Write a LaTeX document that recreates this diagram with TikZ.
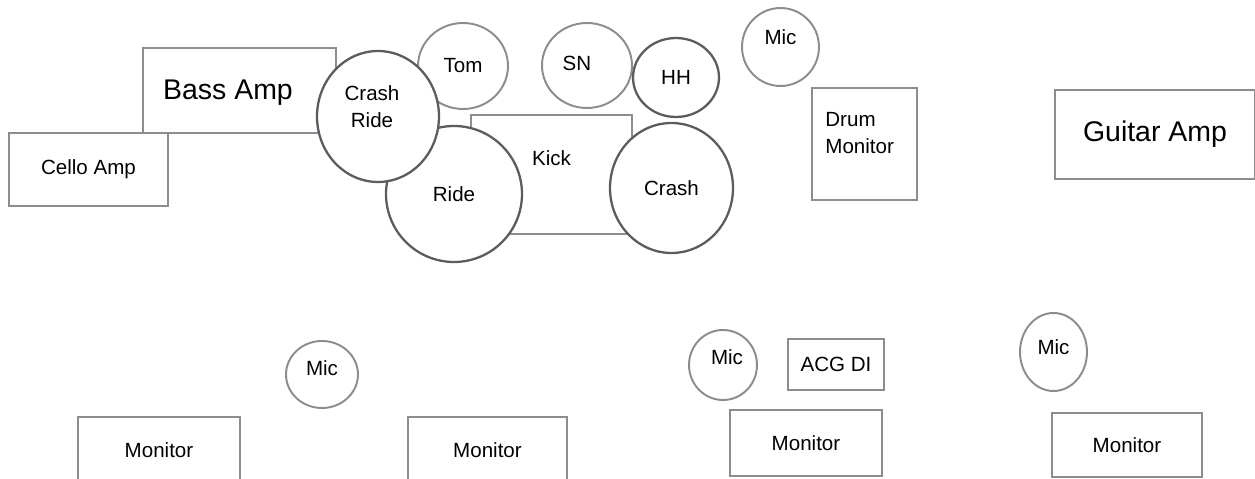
\documentclass[tikz,border=0pt]{standalone}
\usepackage{fontspec}
\setmainfont{Liberation Sans}
\usetikzlibrary{
    shapes.geometric,
    positioning
}
\definecolor{boxline}{HTML}{8B8D90}
\definecolor{darkline}{HTML}{5A5C60}
\definecolor{lightline}{HTML}{8C8C8C}
\tikzset{gear/.style={rectangle, draw=boxline, line width=1.1pt, fill=white, inner sep=0pt}}
\tikzset{drum/.style={ellipse, draw=darkline, line width=1.3pt, fill=white, inner sep=0pt}}
\tikzset{mic/.style={ellipse, draw=lightline, line width=1.1pt, fill=white, inner sep=0pt}}
\tikzset{lbl/.style={inner sep=0pt, align=center}}
\tikzset{big/.style={font=\fontsize{16.2pt}{19pt}\selectfont}}

\begin{document}
\begin{tikzpicture}[x=0.02cm, y=-0.02cm, font=\fontsize{11.7pt}{15pt}\selectfont]
                        \clip (0, 0) rectangle (1255, 479);

                        % amps
                        \node[gear, minimum width=3.86cm, minimum height=1.70cm,
                            label={[lbl, big, xshift=-0.23cm, yshift=-0.05cm]center:Bass Amp}] (bass) at (239.5, 90.5) {};
                        \node[gear, minimum width=3.18cm, minimum height=1.46cm] (cello) at (88.5, 169.5) {Cello Amp};
                        \node[gear, big, minimum width=4.0cm, minimum height=1.78cm] (guitar) at (1155, 134.5) {Guitar Amp};

                        % drum kit
                        \node[gear, minimum width=3.22cm, minimum height=2.38cm,
                            label={[lbl, yshift=0.32cm]center:Kick}] (kick) at (551.5, 174.5) {};
                        \node[drum, minimum width=2.72cm, minimum height=2.72cm] (ride) at (454, 194) {Ride};
                        \node[mic, minimum width=1.80cm, minimum height=1.72cm] (tom) at (463, 66) {Tom};
                        \node[mic, minimum width=1.80cm, minimum height=1.70cm,
                            label={[lbl, xshift=-0.2cm, yshift=0.05cm]center:SN}] (sn) at (587, 65.5) {};
                        \node[drum, minimum width=1.72cm, minimum height=1.58cm] (hh) at (676, 77.5) {HH};
                        \node[drum, minimum width=2.46cm, minimum height=2.60cm] (crash) at (671.5, 188) {Crash};
                        \node[drum, minimum width=2.44cm, minimum height=2.62cm,
                            label={[lbl, xshift=-0.12cm, yshift=0.2cm]center:Crash\\Ride}] (crashride) at (378, 116.5) {};
                        \node[mic, minimum width=1.54cm, minimum height=1.56cm,
                            label={[lbl, yshift=0.2cm]center:Mic}] (micdrum) at (780.5, 47) {};
                        \node[gear, minimum width=2.10cm, minimum height=2.24cm,
                            label={[lbl, align=left, anchor=west, xshift=0.28cm, yshift=0.22cm]west:Drum\\Monitor}] (drummon) at (864.5, 144) {};

                        % front line
                        \node[mic, minimum width=1.44cm, minimum height=1.34cm,
                            label={[lbl, yshift=0.12cm]center:Mic}] (micl) at (322, 374.5) {};
                        \node[mic, minimum width=1.36cm, minimum height=1.40cm,
                            label={[lbl, xshift=0.08cm, yshift=0.16cm]center:Mic}] (micc) at (723, 365) {};
                        \node[mic, minimum width=1.34cm, minimum height=1.56cm,
                            label={[lbl, yshift=0.1cm]center:Mic}] (micr) at (1053.5, 352) {};
                        \node[gear, minimum width=1.92cm, minimum height=1.02cm] (acg) at (836, 364.5) {ACG DI};

                        \node[gear, minimum width=3.24cm, minimum height=1.32cm] (mon1) at (159, 450) {Monitor};
                        \node[gear, minimum width=3.18cm, minimum height=1.32cm] (mon2) at (487.5, 450) {Monitor};
                        \node[gear, minimum width=3.04cm, minimum height=1.32cm] (mon3) at (806, 443) {Monitor};
                        \node[gear, minimum width=3.00cm, minimum height=1.28cm] (mon4) at (1127, 445) {Monitor};
                    \end{tikzpicture}
\end{document}
